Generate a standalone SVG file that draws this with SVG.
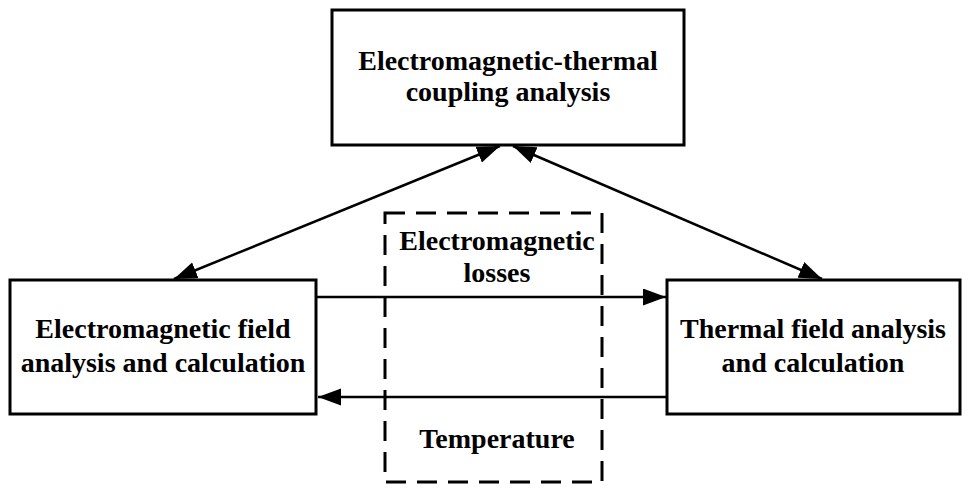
<svg xmlns="http://www.w3.org/2000/svg" width="970" height="492" viewBox="0 0 970 492">
<style>
.box{fill:#fff;stroke:#000;stroke-width:3}
.dash{fill:none;stroke:#000;stroke-width:3;stroke-dasharray:20 11}
.lbl{font-family:"Liberation Serif","Times New Roman",serif;font-weight:bold;font-size:28px;fill:#000;text-anchor:middle}
.conn{stroke:#000;stroke-width:2.5;fill:none}
</style>
<defs>
<marker id="ah" markerUnits="userSpaceOnUse" markerWidth="26" markerHeight="20" refX="23" refY="8.5" orient="auto-start-reverse">
<path d="M0,0 L23,8.5 L0,17 Z" fill="#000"/>
</marker>
</defs>
<rect width="970" height="492" fill="#fff"/>
<g id="connectors">
<line class="conn" x1="174" y1="279" x2="500" y2="146" marker-start="url(#ah)" marker-end="url(#ah)"/>
<line class="conn" x1="513" y1="146" x2="822" y2="279" marker-start="url(#ah)" marker-end="url(#ah)"/>
<line class="conn" x1="316" y1="297" x2="666" y2="297" marker-end="url(#ah)"/>
<line class="conn" x1="667" y1="397" x2="318" y2="397" marker-end="url(#ah)"/>
</g>
<g id="coupling">
<rect class="box" x="332" y="10" width="352" height="135"/>
<text class="lbl" x="508" y="70">Electromagnetic-thermal</text>
<text class="lbl" x="508" y="101">coupling analysis</text>
</g>
<g id="em-field">
<rect class="box" x="10" y="280" width="306" height="134"/>
<text class="lbl" x="163" y="338">Electromagnetic field</text>
<text class="lbl" x="163" y="372">analysis and calculation</text>
</g>
<g id="thermal-field">
<rect class="box" x="667" y="280" width="293" height="134"/>
<text class="lbl" x="813" y="338">Thermal field analysis</text>
<text class="lbl" x="813" y="372">and calculation</text>
</g>
<g id="exchange">
<rect class="dash" x="385" y="213" width="217" height="269"/>
<text class="lbl" x="497" y="250">Electromagnetic</text>
<text class="lbl" x="497" y="282">losses</text>
<text class="lbl" x="497" y="448">Temperature</text>
</g>
</svg>
